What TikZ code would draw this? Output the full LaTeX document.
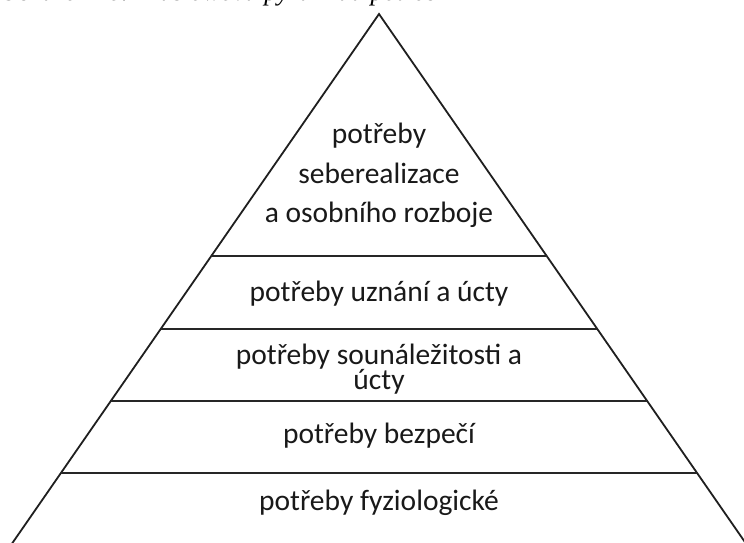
\documentclass[tikz,border=0pt]{standalone}
\usepackage{fontspec}
\setmainfont{Carlito}
\newfontfamily\captionfont{Liberation Serif}
\begin{document}
\begin{tikzpicture}[x=1pt,y=-1pt,
  side/.style={draw=black!88,line width=1.8pt,line join=miter},
  tier/.style={draw=black!85,line width=2pt},
  level/.style={anchor=base,inner sep=0pt,text=black!90,
    font=\fontsize{29.5}{30}\selectfont},
  figcap/.style={anchor=base west,inner sep=0pt,
    font=\captionfont\itshape\fontsize{26}{26}\selectfont}]
\useasboundingbox (0,0) rectangle (744,543);
\begin{scope}
\clip (0,0) rectangle (744,543);
% caption of the figure, running off the top edge
\node[figcap] (cap) at (0,0.3) {Obrázek 16: Maslowova pyramida potřeb};
% outline of the pyramid
\coordinate (apex) at (379,14);
\coordinate (bl) at (-6.3,570);
\coordinate (br) at (764.3,570);
\draw[side] (bl) -- (apex) -- (br);
% borders between the levels
\coordinate (l1) at (211.3,256); \coordinate (r1) at (546.7,256);
\coordinate (l2) at (160.7,329); \coordinate (r2) at (597.3,329);
\coordinate (l3) at (110.8,401); \coordinate (r3) at (647.2,401);
\coordinate (l4) at (60.9,473);  \coordinate (r4) at (697.1,473);
\draw[tier] (l1) -- (r1);
\draw[tier] (l2) -- (r2);
\draw[tier] (l3) -- (r3);
\draw[tier] (l4) -- (r4);
\end{scope}
% labels of the levels
\node[level] (top1) at (379,143.5) {potřeby};
\node[level] (top2) at (379,183) {seberealizace};
\node[level] (top3) at (379,222) {a osobního rozboje};
\node[level] (esteem) at (379,301.5) {potřeby uznání a úcty};
\node[level] (belong1) at (379,364) {potřeby sounáležitosti a};
\node[level] (belong2) at (379,389) {úcty};
\node[level] (safety) at (379,443) {potřeby bezpečí};
\node[level] (body) at (379,510) {potřeby fyziologické};
\end{tikzpicture}
\end{document}
